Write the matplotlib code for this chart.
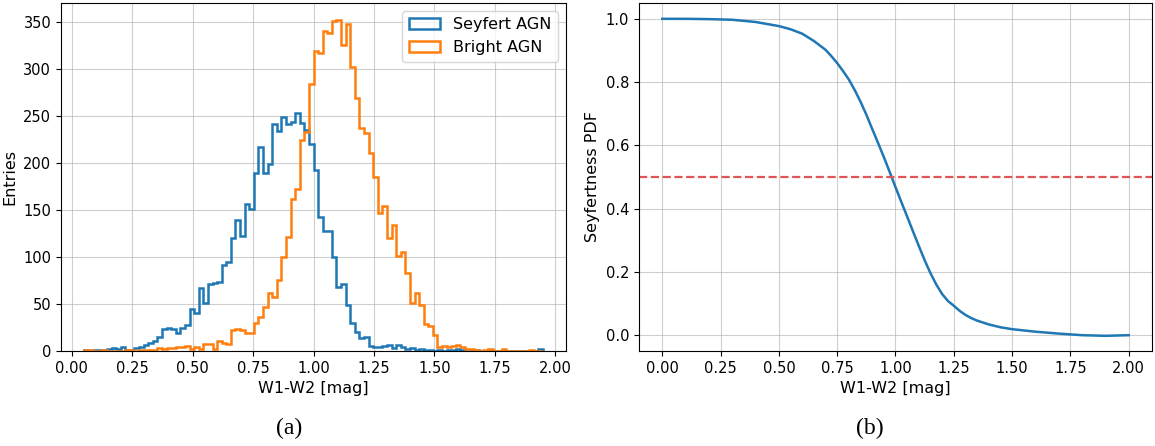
import numpy as np
import matplotlib
matplotlib.use('Agg')
from matplotlib import pyplot as plt

# histogram bins (100 bins from 0.05 to 1.95)
bin_edges = np.linspace(0.05, 1.95, 101)

seyfert_counts = [1, 0, 1, 1, 1, 2, 3, 2, 4, 1,
                  1, 3, 4, 6, 8, 11, 15, 23, 24, 23,
                  19, 24, 28, 45, 40, 67, 51, 71, 72, 73,
                  92, 95, 120, 139, 123, 157, 151, 190, 217, 190,
                  199, 242, 234, 249, 242, 244, 253, 243, 235, 221,
                  193, 143, 128, 128, 100, 68, 71, 49, 30, 20,
                  14, 15, 5, 4, 4, 5, 6, 3, 6, 4,
                  2, 3, 1, 2, 1, 1, 0, 1, 0, 1,
                  1, 2, 1, 0, 0, 1, 0, 0, 0, 0,
                  0, 0, 0, 0, 0, 0, 0, 0, 0, 2]

bright_counts = [1, 1, 0, 0, 1, 0, 0, 0, 0, 1,
                 1, 0, 1, 1, 1, 1, 3, 2, 3, 3,
                 4, 4, 5, 2, 4, 2, 7, 7, 2, 11,
                 8, 7, 22, 23, 22, 19, 19, 30, 36, 47,
                 62, 57, 76, 100, 121, 162, 173, 225, 233, 284,
                 320, 317, 341, 339, 352, 353, 326, 348, 302, 269,
                 237, 232, 211, 185, 147, 154, 120, 134, 101, 105,
                 83, 51, 62, 49, 29, 27, 17, 4, 5, 4,
                 5, 6, 4, 2, 2, 1, 0, 1, 2, 0,
                 0, 2, 0, 0, 0, 0, 0, 1, 0, 0]

# seyfertness pdf curve
pdf_x = [0.0, 0.1, 0.2, 0.3, 0.4, 0.5, 0.55, 0.6, 0.65, 0.7, 0.725, 0.75,
         0.775, 0.8, 0.825, 0.85, 0.875, 0.9, 0.925, 0.95, 0.975,
         1.0, 1.025, 1.05, 1.075, 1.1, 1.125, 1.15, 1.175, 1.2, 1.225, 1.25,
         1.275, 1.3, 1.325, 1.35, 1.4, 1.45, 1.5, 1.6, 1.7, 1.8, 1.9, 2.0]
pdf_y = [1.000, 1.000, 0.999, 0.997, 0.990, 0.977, 0.967, 0.953, 0.930, 0.902,
         0.882, 0.860, 0.835, 0.808, 0.775, 0.738, 0.697, 0.652, 0.608, 0.563,
         0.516, 0.468, 0.421, 0.375, 0.328, 0.282, 0.237, 0.196, 0.160, 0.130,
         0.108, 0.093, 0.077, 0.064, 0.054, 0.046, 0.034, 0.025, 0.019, 0.011,
         0.005, 0.000, -0.002, 0.000]

tick_fs = 10.5
label_fs = 11.5

fig = plt.figure(figsize=(11.55, 4.46), dpi=100)
ax1 = fig.add_axes([61/1155, 95/446, 505/1155, 348/446])
ax2 = fig.add_axes([639/1155, 95/446, 513/1155, 348/446])

centers = (bin_edges[:-1] + bin_edges[1:]) / 2
ax1.hist(centers, bins=bin_edges, weights=seyfert_counts, histtype='step',
         lw=1.8, color='tab:blue', label='Seyfert AGN')
ax1.hist(centers, bins=bin_edges, weights=bright_counts, histtype='step',
         lw=1.8, color='tab:orange', label='Bright AGN')
ax1.set_xticks(np.arange(0, 2.01, 0.25))
ax1.set_yticks(np.arange(0, 351, 50))
ax1.set_xlabel('W1-W2 [mag]', fontsize=label_fs)
ax1.set_ylabel('Entries', fontsize=label_fs)
ax1.tick_params(labelsize=tick_fs)
ax1.grid(True, alpha=0.6)
ax1.legend(loc='upper right', fontsize=label_fs)

ax2.plot(pdf_x, pdf_y, color='tab:blue', lw=1.8)
ax2.axhline(0.5, color='#e05555', ls='--', lw=1.6)
ax2.set_xticks(np.arange(0, 2.01, 0.25))
ax2.set_yticks(np.arange(0, 1.01, 0.2))
ax2.set_ylim(-0.05, 1.05)
ax2.set_xlabel('W1-W2 [mag]', fontsize=label_fs)
ax2.set_ylabel('Seyfertness PDF', fontsize=label_fs)
ax2.tick_params(labelsize=tick_fs)
ax2.grid(True, alpha=0.6)

fig.text(289/1155, 1 - 428/446, '(a)', family='Liberation Serif', fontsize=17,
         ha='center', va='center')
fig.text(870/1155, 1 - 428/446, '(b)', family='Liberation Serif', fontsize=17,
         ha='center', va='center')

fig.savefig('out.png', dpi=100)
